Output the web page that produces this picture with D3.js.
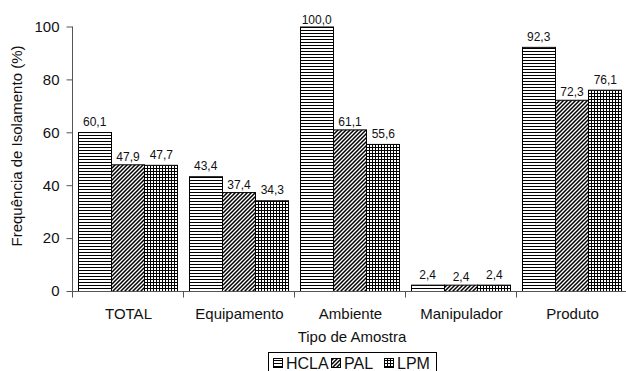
<!DOCTYPE html>
<html><head><meta charset="utf-8">
<script src="https://cdn.jsdelivr.net/npm/d3@7"></script>
<style>body{margin:0;background:#fff}svg{display:block}text{font-family:"Liberation Sans",Arial,sans-serif}</style>
</head><body><svg id="c" width="626" height="371"></svg>
<script>
const categories = ["TOTAL","Equipamento","Ambiente","Manipulador","Produto"];
const seriesNames = ["HCLA","PAL","LPM"];
const HCLA = [60.1,43.4,100.0,2.4,92.3];
const PAL  = [47.9,37.4,61.1,2.4,72.3];
const LPM  = [47.7,34.3,55.6,2.4,76.1];
const yTicks = [0,20,40,60,80,100];
const seriesValues = [HCLA,PAL,LPM];

const svg = d3.select("#c");
const y0 = 291, y1 = 26.5;
const x = d3.scaleBand().domain(categories).range([72,627]).paddingInner(0).paddingOuter(0);
const xs = d3.scaleBand().domain(seriesNames).range([0,x.bandwidth()]).paddingOuter(0.165).paddingInner(0);
const y = d3.scaleLinear().domain([0,100]).range([y0,y1]);

const defs = svg.append("defs");
let p = defs.append("pattern").attr("id","p0").attr("patternUnits","userSpaceOnUse").attr("width",4).attr("height",3);
p.append("rect").attr("width",4).attr("height",3).attr("fill","#fff");
p.append("rect").attr("y",0).attr("width",4).attr("height",1).attr("fill","#000");
p = defs.append("pattern").attr("id","p1").attr("patternUnits","userSpaceOnUse").attr("width",4).attr("height",4);
p.append("rect").attr("width",4).attr("height",4).attr("fill","#fff");
p.append("path").attr("d","M-1,1 L1,-1 M0,4 L4,0 M3,5 L5,3").attr("stroke","#000").attr("stroke-width",1.5);
p = defs.append("pattern").attr("id","p2").attr("patternUnits","userSpaceOnUse").attr("width",3).attr("height",3);
p.append("rect").attr("width",3).attr("height",3).attr("fill","#fff");
p.append("rect").attr("width",1).attr("height",3).attr("fill","#000");
p.append("rect").attr("width",3).attr("height",1).attr("fill","#000");
const fills = ["url(#p0)","url(#p1)","url(#p2)"];

const g = svg.append("g");
categories.forEach((c,i)=>{
  seriesNames.forEach((s,j)=>{
    const v = seriesValues[j][i];
    const bx = x(c)+xs(s);
    g.append("rect").attr("x",Math.round(bx)+0.5).attr("y",y(v)+0.5)
      .attr("width",Math.round(xs.bandwidth())).attr("height",y0-y(v))
      .attr("fill",fills[j]).attr("stroke","#000").attr("stroke-width",1);
    const dy = s==="PAL" ? -3.5 : -6;
    g.append("text").attr("x",bx+xs.bandwidth()/2+0.5).attr("y",Math.max(23.5,y(v)+dy))
      .attr("text-anchor","middle").attr("font-size",12).attr("fill","#111")
      .text(d3.format(".1f")(v).replace(".",","));
  });
});

const ya = svg.append("g").attr("transform","translate(72.5,0)")
  .call(d3.axisLeft(y).tickValues(yTicks).tickSize(6).tickPadding(7).tickFormat(d=>d));
ya.select(".domain").attr("d",`M0,${y1}V${y0+0.5}`).attr("stroke","#555");
ya.selectAll(".tick line").attr("stroke","#555");
ya.selectAll("text").attr("font-size",15).attr("fill","#111").attr("font-family","Liberation Sans, Arial, sans-serif");

const xa = svg.append("g").attr("transform",`translate(0,${y0+0.5})`);
xa.append("line").attr("x1",72).attr("x2",626).attr("y1",0).attr("y2",0).attr("stroke","#555");
const bounds = categories.map(c=>x(c)).concat([x.range()[1]]);
xa.selectAll(".tk").data(bounds).join("line").attr("class","tk")
  .attr("x1",d=>Math.round(d)+0.5).attr("x2",d=>Math.round(d)+0.5).attr("y1",0).attr("y2",6).attr("stroke","#555");
xa.selectAll(".lb").data(categories).join("text").attr("class","lb")
  .attr("x",d=>x(d)+x.bandwidth()/2+1).attr("y",27.5).attr("text-anchor","middle")
  .attr("font-size",15).attr("fill","#111").text(d=>d);

svg.append("text").attr("x",352).attr("y",342).attr("text-anchor","middle").attr("font-size",15).attr("fill","#111").text("Tipo de Amostra");
svg.append("text").attr("transform","translate(22,146) rotate(-90)").attr("text-anchor","middle").attr("font-size",15).attr("fill","#111").text("Frequência de Isolamento (%)");

const lg = svg.append("g");
lg.append("rect").attr("x",268.5).attr("y",352.5).attr("width",168).attr("height",24).attr("fill","#fff").attr("stroke","#000");
const lx = [273, 331, 384];
seriesNames.forEach((s,j)=>{
  lg.append("rect").attr("x",lx[j]+0.5).attr("y",358.5).attr("width",9).attr("height",9).attr("fill",fills[j]).attr("stroke","#000");
  lg.append("text").attr("x",lx[j]+13).attr("y",368.5).attr("font-size",16).attr("fill","#111").text(s);
});
</script></body></html>
